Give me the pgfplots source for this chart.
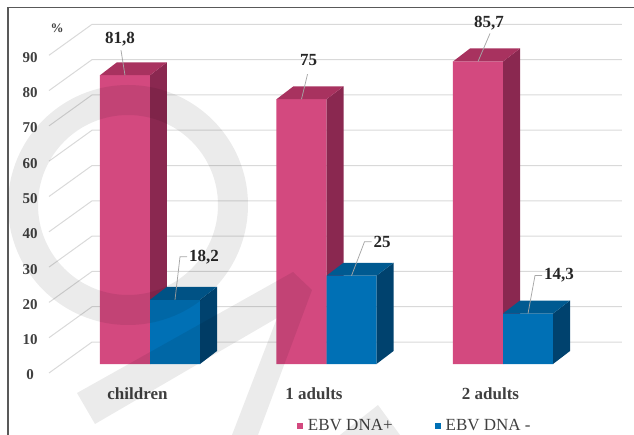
\documentclass[border=0pt]{standalone}
\usepackage{fontspec}
\setmainfont{Liberation Serif}
\usepackage{pgfplots}
\usepackage{pgfplotstable}
\pgfplotsset{compat=1.18}

\definecolor{pinkF}{HTML}{D3497F}
\definecolor{pinkT}{HTML}{A8325F}
\definecolor{pinkS}{HTML}{8A2850}
\definecolor{blueF}{HTML}{0070B5}
\definecolor{blueT}{HTML}{005A91}
\definecolor{blueS}{HTML}{00426E}
\definecolor{gridgray}{HTML}{D9D9D9}
\definecolor{txtgray}{HTML}{404040}
\definecolor{valtxt}{HTML}{262626}
\definecolor{leadgray}{HTML}{A6A6A6}
\definecolor{framegray}{HTML}{595959}

\newcommand\valfont{\fontsize{17bp}{20bp}\selectfont\bfseries}

% EBV DNA+ (pink) and EBV DNA - (blue), in %
\pgfplotstableread{
x v lab lx ly cx cy
0 81.8 81,8 -4 25 -5 36
1 75 75 6 25 7 39
2 85.7 85,7 12 28 11 38
}\pinktab
\pgfplotstableread{
x v lab lx ly
0 18.2 18,2 5 43
1 25 25 13 34
2 14.3 14,3 7 38
}\bluetab

\newcommand\dpx{0.0963}
\newcommand\dpy{3.68}

\newcommand\gridline[1]{%
  \pgfmathsetmacro\ga{#1-2.546}%
  \pgfmathsetmacro\gb{#1+6.22}%
  \edef\tmp{\noexpand\addplot[forget plot, draw=gridgray, line width=1bp, mark=none] coordinates {(-0.5722,\ga) (-0.3286,\gb) (2.674,\gb)};}%
  \tmp}

\newcommand\barfaces[5]{%
  \pgfmathsetmacro\fxr{#2}%
  \pgfmathsetmacro\fxl{#1}%
  \pgfmathsetmacro\fxld{#1+\dpx}%
  \pgfmathsetmacro\fxrd{#2+\dpx}%
  \pgfmathsetmacro\fv{#3}%
  \pgfmathsetmacro\fvt{#3+\dpy}%
  \edef\tmp{\noexpand\addplot[forget plot, fill=#5, draw=none, mark=none] coordinates {(\fxr,0) (\fxrd,\dpy) (\fxrd,\fvt) (\fxr,\fv)};}\tmp
  \edef\tmp{\noexpand\addplot[forget plot, fill=#4, draw=none, mark=none] coordinates {(\fxl,\fv) (\fxr,\fv) (\fxrd,\fvt) (\fxld,\fvt)};}\tmp
}

\pgfplotsset{sqlegend/.style={legend image code/.code={\fill[##1] (0bp,-3bp) rectangle (6bp,3bp);}}}

\begin{document}
\begin{tikzpicture}
\begin{axis}[
  at={(0bp,0bp)}, anchor=south west,
  width=634bp, height=435bp, scale only axis,
  xmin=-0.84986, xmax=2.74221,
  ymin=-20.113, ymax=103.116,
  enlargelimits=false,
  axis line style={draw=none},
  tick style={draw=none},
  clip=false,
  xtick={0,1,2}, xticklabels={children,1 adults,2 adults},
  xticklabel style={anchor=base, yshift=36bp, xshift=-12.5bp, font=\fontsize{17bp}{20bp}\selectfont\bfseries, text=txtgray},
  ytick={0,10,...,90},
  yticklabel style={anchor=center, xshift=30bp, yshift=-11bp, font=\fontsize{15bp}{18bp}\selectfont\bfseries, text=txtgray},
  /pgf/number format/assume math mode=true,
  legend columns=2,
  legend style={draw=none, fill=none, inner sep=0pt, outer sep=0pt,
    at={(rel axis cs:0.46845,0.02069)}, anchor=west,
    font=\fontsize{17bp}{20bp}\selectfont, text=txtgray,
    /tikz/every odd column/.append style={column sep=5bp},
    /tikz/every even column/.append style={column sep=42bp},
    nodes={inner sep=0pt}},
]
\pgfplotsinvokeforeach{0,10,...,90}{\gridline{#1}}

\addplot[ybar, bar width=0.283333, bar shift=-0.141667, fill=pinkF, draw=none, sqlegend] table[x=x, y=v] {\pinktab};
\addlegendentry{EBV DNA+}
\pgfplotsinvokeforeach{0,1,2}{\pgfplotstablegetelem{#1}{v}\of\pinktab \barfaces{#1-0.283333}{#1}{\pgfplotsretval}{pinkT}{pinkS}}

\addplot[ybar, bar width=0.283333, bar shift=0.141667, fill=blueF, draw=none, sqlegend] table[x=x, y=v] {\bluetab};
\addlegendentry{EBV DNA -}
\pgfplotsinvokeforeach{0,1,2}{\pgfplotstablegetelem{#1}{v}\of\bluetab \barfaces{#1}{#1+0.283333}{\pgfplotsretval}{blueT}{blueS}}

\addplot[forget plot, only marks, mark=*, mark size=0pt, mark options={draw=none, fill=none},
  scatter, point meta=explicit symbolic,
  visualization depends on={\thisrow{lx}\as\llx},
  visualization depends on={\thisrow{ly}\as\lly},
  visualization depends on={\thisrow{cx}\as\lcx},
  visualization depends on={\thisrow{cy}\as\lcy},
  scatter/@pre marker code/.code={%
    \draw[leadgray, line width=0.75bp] (0bp,0bp) -- (\llx bp,\lly bp);
    \node[anchor=center, inner sep=0pt, font=\valfont, text=valtxt] at (\lcx bp,\lcy bp) {\pgfplotspointmeta};
  },
  scatter/@post marker code/.code={},
] table[x expr=\thisrow{x}-0.141667, y=v, meta=lab] {\pinktab};

\addplot[forget plot, only marks, mark=*, mark size=0pt, mark options={draw=none, fill=none},
  scatter, point meta=explicit symbolic,
  visualization depends on={\thisrow{lx}\as\llx},
  visualization depends on={\thisrow{ly}\as\lly},
  scatter/@pre marker code/.code={%
    \draw[leadgray, line width=0.75bp] (0bp,0bp) -- (\llx bp,\lly bp) -- ++(7bp,0bp);
    \node[anchor=west, inner sep=0pt, font=\valfont, text=valtxt] at (\llx bp+9bp,\lly bp) {\pgfplotspointmeta};
  },
  scatter/@post marker code/.code={},
] table[x expr=\thisrow{x}+0.141667, y=v, meta=lab] {\bluetab};
\end{axis}

% unit label
\node[font=\fontsize{13bp}{15bp}\selectfont\bfseries, text=txtgray] at (57bp,407bp) {\%};

% frame
\draw[framegray, line width=1.3bp] (8bp,0bp) -- (8bp,427.7bp) -- (634bp,427.7bp);

% watermark
\fill[black, opacity=0.08, even odd rule] (128bp,230bp) circle (120bp) (128bp,230bp) circle (90bp);
\fill[black, opacity=0.08] (77bp,42bp) -- (293bp,163bp) -- (312bp,145bp) -- (258bp,0bp) -- (232bp,0bp) -- (277bp,117bp) -- (95bp,11bp) -- cycle;
\fill[black, opacity=0.08] (340bp,0bp) -- (378bp,30bp) -- (400bp,0bp) -- cycle;

\pgfresetboundingbox
\useasboundingbox (0bp,0bp) rectangle (634bp,435bp);
\end{tikzpicture}
\end{document}
